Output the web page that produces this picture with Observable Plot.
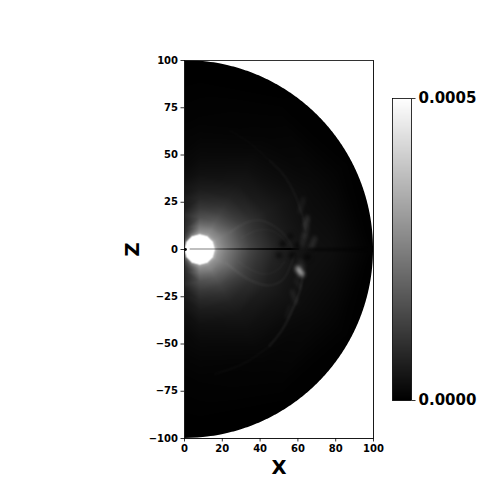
<!DOCTYPE html>
<html><head><meta charset="utf-8">
<script src="https://cdn.jsdelivr.net/npm/d3@7"></script>
<script src="https://cdn.jsdelivr.net/npm/@observablehq/plot@0.6"></script>
<style>
html,body{margin:0;padding:0;background:#fff}
#wrap{position:relative;width:500px;height:500px}
#wrap svg{position:absolute;left:0;top:0}
.soft{filter:blur(1.2px)}
.softer{filter:blur(2px)}
</style></head><body><div id="wrap"></div>
<script>
// Glow samples: rings around the bright disc (units of 1e-6)
const discCentre = 8;
const ringAngles = [0,30,60,90,120,150,180];
const ringRadii = [0,6.6,7.6,8.6,10,12,14,17,22,27,32,40,50,60,70,85,92,130];
const ringValues = [
 [800,800,800,800,800,800,800],
 [800,800,800,800,800,800,800],
 [520,520,520,520,520,520,520],
 [350,340,320,310,250,200,180],
 [300,290,280,270,170,110,100],
 [275,265,255,235,115,60,50],
 [250,240,220,200,90,40,30],
 [220,210,180,155,65,26,20],
 [175,160,130,110,48,17,10],
 [135,120,95,78,34,11,8],
 [108,92,68,55,25,8,6],
 [72,60,44,32,15,4,2],
 [48,40,28,18,8,2,1],
 [32,26,16,10,4,1,0],
 [28,18,8,5,2,0,0],
 [10,6,4,2,1,0,0],
 [2,2,1,0,0,0,0],
 [0,0,0,0,0,0,0]
];
// Sheet along the equator
const sheetX =  [3,15,30,45,56,61];
const sheetHalf=[0.12,0.18,0.28,0.42,0.5,0.15];
const farSheetX=[66,75,85,95];
// Faint arcs: the inner part of each shock is brighter than the outer part
const upperShockX=[64,62,58,52,45];
const upperShockZ=[10,19,30,40,47];
const upperShockOuterX=[45,35,24];
const upperShockOuterZ=[47,56,63];
const lowerShockX=[63,61,58,52,45];
const lowerShockZ=[-12,-22,-30,-42,-51];
const lowerShockOuterX=[45,32,16];
const lowerShockOuterZ=[-51,-60,-66];
const upperLoopX=[24,32,40,48,54,57];
const upperLoopZ=[9,14,15.5,12,6.5,1];
const upperLoop2X=[30,38,46,52,55];
const upperLoop2Z=[6,10,10,6,2];
const lowerLoopX=[22,28,35,45,52,56,58];
const lowerLoopZ=[-7,-12,-16.4,-19,-16,-9,-3];
const lowerLoop2X=[28,34,42,49,53];
const lowerLoop2Z=[-6,-10,-13,-11,-6];
// Bright streaks near the shock: start, end, opacity, width
const streakX1=[60,62,64,67,61,57,61,63,56,59];
const streakZ1=[-10,2,12,1,-6,-22,20,7,-30,-16];
const streakX2=[62,64,65,69,63,59,63,65,54,61];
const streakZ2=[-13,8,17,6,-9,-28,27,11,-36,-20];
const streakAlpha=[.75,.12,.2,.16,.1,.1,.08,.1,.06,.08];
const streakWidth=[4.5,3.5,3.5,3.5,3.5,3.5,3.5,3,3.5,3.5];
// Dark knots
const knotX=[52,57,60,65,56,50];
const knotZ=[3,-3,2,-4,7,-3];
const knotR=[3,3,3,2.5,2,2.5];

const xTicks=[0,20,40,60,80,100];
const zTicks=[-100,-75,-50,-25,0,25,50,75,100];
const barTicks=[0,0.0005];
const colorDomain=[0,0.0005];

const samples=[];
ringRadii.forEach((r,i)=>ringAngles.forEach((a,j)=>{
  const t=a*Math.PI/180;
  samples.push({x:discCentre+r*Math.cos(t),z:r*Math.sin(t),v:ringValues[i][j]*1e-6});
  samples.push({x:discCentre+r*Math.cos(t),z:-r*Math.sin(t),v:ringValues[i][j]*1e-6});
}));
const path=(X,Z)=>X.map((x,i)=>({x,z:Z[i]}));
const color={type:"linear",domain:colorDomain,range:["#000","#fff"],clamp:true};
const baseStyle={fontFamily:"'DejaVu Sans'",fontWeight:"bold",fontSize:"10px",background:"transparent",color:"#000",overflow:"visible"};
const maskZ=d3.range(-100,100.25,0.25);

const arc=(X,Z,a,w,cls)=>Plot.line(path(X,Z),{x:"x",y:"z",curve:"catmull-rom",stroke:"#fff",strokeOpacity:a,strokeWidth:w,className:cls});

const main=Plot.plot({
  width:500,height:500,marginLeft:184,marginRight:127,marginTop:60,marginBottom:62,
  style:baseStyle,
  x:{domain:[0,100]},y:{domain:[-100,100]},color,
  marks:[
    Plot.raster(samples,{x:"x",y:"z",fill:"v",interpolate:"barycentric"}),
    arc(upperShockX,upperShockZ,.05,1.8,"soft"),
    arc(upperShockOuterX,upperShockOuterZ,.025,1.8,"soft"),
    arc(lowerShockX,lowerShockZ,.09,1.8,"soft"),
    arc(lowerShockOuterX,lowerShockOuterZ,.035,1.8,"soft"),
    arc(upperLoopX,upperLoopZ,.06,1.4,"soft"),
    arc(upperLoop2X,upperLoop2Z,.04,1.4,"soft"),
    arc(lowerLoopX,lowerLoopZ,.07,1.4,"soft"),
    arc(lowerLoop2X,lowerLoop2Z,.04,1.4,"soft"),
    Plot.dot(knotX.map((x,i)=>({x,z:knotZ[i],r:knotR[i]})),{x:"x",y:"z",r:"r",fill:"#000",fillOpacity:.7,className:"softer"}),
    Plot.link(streakX1.map((x,i)=>({x1:x,z1:streakZ1[i],x2:streakX2[i],z2:streakZ2[i],a:streakAlpha[i],w:streakWidth[i]})),{x1:"x1",y1:"z1",x2:"x2",y2:"z2",stroke:"#fff",strokeOpacity:"a",strokeWidth:"w",strokeLinecap:"round",className:"softer"}),
    Plot.areaY(sheetX.map((x,i)=>({x,lo:-sheetHalf[i],hi:sheetHalf[i]})),{x:"x",y1:"lo",y2:"hi",fill:"#000"}),
    Plot.line(path(farSheetX,farSheetX.map(()=>0)),{x:"x",y:"z",stroke:"#000",strokeOpacity:.5,strokeWidth:3,className:"soft"}),
    Plot.dot([{x:0.5,z:0}],{x:"x",y:"z",r:1.4,fill:"#000"}),
    Plot.areaX(maskZ,{y:z=>z,x1:z=>Math.sqrt(Math.max(0,10000-z*z)),x2:()=>100,fill:"#fff"}),
    Plot.frame({stroke:"#000",strokeWidth:.8}),
    Plot.axisX({ticks:xTicks,tickSize:3.5,tickPadding:3,label:null,strokeWidth:.8}),
    Plot.axisY({ticks:zTicks,tickSize:3.5,tickPadding:3,label:null,strokeWidth:.8}),
    Plot.text(["X"],{frameAnchor:"bottom",dy:29,fontSize:19.5,fontWeight:"bold",lineAnchor:"middle"}),
    Plot.text(["Z"],{frameAnchor:"left",dx:-52,fontSize:19.5,fontWeight:"bold",rotate:-90,textAnchor:"middle"})
  ]
});
const bar=Plot.plot({
  width:500,height:500,marginLeft:392,marginRight:89,marginTop:98,marginBottom:100,
  style:{...baseStyle,fontSize:"15px"},
  x:{domain:[0,1],axis:null},y:{domain:colorDomain},color,
  marks:[
    Plot.raster({fill:(x,y)=>y,x1:0,x2:1,y1:0,y2:0.0005}),
    Plot.frame({stroke:"#000",strokeWidth:.8}),
    Plot.axisY({anchor:"right",ticks:barTicks,tickFormat:d3.format(".4f"),tickSize:3.5,tickPadding:3.5,label:null,strokeWidth:.8})
  ]
});
document.getElementById("wrap").append(main,bar);
</script></body></html>
